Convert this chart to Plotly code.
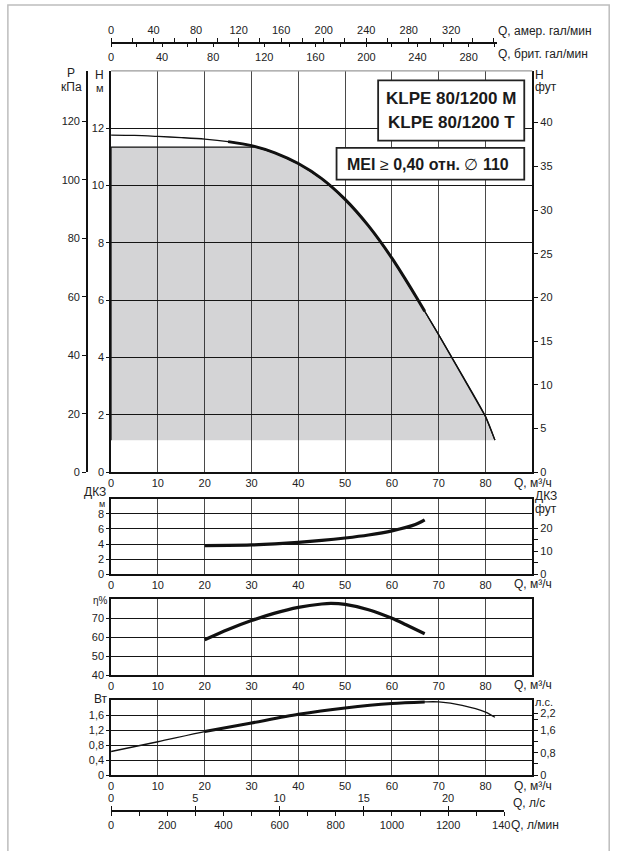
import numpy as np
import plotly.graph_objects as go

# ---- pump curves, flow Q in m³/h ----
q_head = [0, 5, 10, 15, 20, 25, 30, 35, 40, 45, 50, 55, 60, 65, 67, 70, 75, 80, 82]
h_head = [11.76, 11.745, 11.71, 11.67, 11.62, 11.53, 11.39, 11.14, 10.765, 10.24,
          9.515, 8.59, 7.465, 6.165, 5.615, 4.79, 3.39, 1.94, 1.12]

q_npsh = [20, 25, 30, 35, 40, 45, 50, 55, 60, 65, 67]
npsh_m = [3.80, 3.82, 3.88, 4.02, 4.22, 4.48, 4.80, 5.20, 5.75, 6.58, 7.20]

q_eff = [20, 25, 30, 35, 40, 45, 47, 50, 55, 60, 63, 67]
eff_pct = [58.6, 64.0, 68.7, 72.6, 75.6, 77.4, 77.7, 77.2, 74.4, 69.9, 66.5, 61.8]

q_pow = [0, 10, 20, 30, 40, 50, 60, 67, 70, 75, 80, 82]
p2_kw = [0.63, 0.89, 1.16, 1.39, 1.62, 1.79, 1.91, 1.95, 1.95, 1.86, 1.68, 1.54]

head_bold = (25, 67)      # bold part of the head curve
pow_bold = (20, 67)       # bold part of the power curve
area_top = 11.34          # upper edge of the shaded field, m
area_bottom = 1.12        # lower edge of the shaded field, m

# ---- unit conversions ----
M_TO_FT = 3.28084
M_TO_KPA = 9.80665
KW_TO_HP = 1 / 0.7457
M3H_TO_USGPM = 4.40287
M3H_TO_IMPGPM = 3.66615
M3H_TO_LPM = 1000 / 60

# ---- ticks ----
q_ticks = list(range(0, 81, 10))
h_ticks = list(range(0, 13, 2))
kpa_ticks = list(range(0, 121, 20))
ft_ticks = list(range(0, 41, 5))
npsh_ticks = [0, 2, 4, 6, 8]
npsh_ft_ticks = [0, 5, 10, 15, 20]
npsh_ft_text = ["0", "", "10", "", "20"]
eff_ticks = [40, 50, 60, 70]
pow_ticks = [0, 0.4, 0.8, 1.2, 1.6]
pow_text = ["0", "0,4", "0,8", "1,2", "1,6"]
hp_ticks = [0, 0.4, 0.8, 1.2, 1.6, 2.0, 2.2]
hp_text = ["0", "", "0,8", "", "1,6", "", "2,2"]
usgpm_ticks = list(range(0, 361, 20))
usgpm_labels = list(range(0, 321, 40))
impgpm_ticks = list(range(0, 301, 20))
impgpm_labels = list(range(0, 281, 40))
lps_ticks = [0, 5, 10, 15, 20]
lps_labels = [0, 5, 10, 15, 20]
lpm_ticks = list(range(0, 1401, 100))
lpm_labels = list(range(0, 1401, 200))

Q_MAX = 90
H_MAX = 14
NPSH_MAX = 10
EFF_RANGE = [40, 80]
P2_MAX = 2.0
Q_TOP_END = 82.5
LPM_END = 1400

# ---- page geometry ----
W, HGT = 629, 851
FONT = "Liberation Sans, Arial, sans-serif"
BOLD_FONT = "Liberation Sans, Arial, sans-serif"
INK = "#111111"
TXT = "#222222"


def fx(px):
    return px / W


def fy(px):
    return 1 - px / HGT


X0, X1 = 110.7, 542.3
PX_PER_Q = (X1 - X0) / Q_MAX
X_DOM = [fx(X0), fx(X1)]
X_DOM_TOP = [fx(X0), fx(X0 + Q_TOP_END * PX_PER_Q)]
X_DOM_BOT = [fx(X0), fx(X0 + LPM_END / M3H_TO_LPM * PX_PER_Q)]

MAIN_DOM = [fy(475.6), fy(71.3)]
NPSH_DOM = [fy(578.3), fy(502.3)]
EFF_DOM = [fy(680.0), fy(603.3)]
POW_DOM = [fy(780.7), fy(705.0)]

tickfont = dict(family=FONT, size=11, color=TXT)


def sub(q, v, lo, hi):
    pts = [(a, b) for a, b in zip(q, v) if lo <= a <= hi]
    return [p[0] for p in pts], [p[1] for p in pts]


fig = go.Figure()

# shaded working field under the head curve
q_cross = float(np.interp(area_top, h_head[::-1], q_head[::-1]))
poly_q = [0, 0, q_cross] + [q for q in q_head if q > q_cross]
poly_h = [area_bottom, area_top, area_top] + [h for q, h in zip(q_head, h_head) if q > q_cross]
fig.add_trace(go.Scatter(x=poly_q, y=poly_h, fill="toself", fillcolor="rgba(0,0,12,0.17)",
                         mode="lines", line=dict(color=INK, width=1.3),
                         xaxis="x", yaxis="y", hoverinfo="skip"))

# head curve: thin over full span, bold in the recommended range
fig.add_trace(go.Scatter(x=q_head, y=h_head, mode="lines",
                         line=dict(color=INK, width=1.3, shape="spline", smoothing=0.8),
                         xaxis="x", yaxis="y"))
qb, hb = sub(q_head, h_head, *head_bold)
fig.add_trace(go.Scatter(x=qb, y=hb, mode="lines",
                         line=dict(color=INK, width=3, shape="spline", smoothing=0.8),
                         xaxis="x", yaxis="y"))

# NPSH
fig.add_trace(go.Scatter(x=q_npsh, y=npsh_m, mode="lines",
                         line=dict(color=INK, width=3.2, shape="spline", smoothing=0.8),
                         xaxis="x2", yaxis="y4"))

# efficiency
fig.add_trace(go.Scatter(x=q_eff, y=eff_pct, mode="lines",
                         line=dict(color=INK, width=3.2, shape="spline", smoothing=0.8),
                         xaxis="x3", yaxis="y6"))

# power input
fig.add_trace(go.Scatter(x=q_pow, y=p2_kw, mode="lines",
                         line=dict(color=INK, width=1.3, shape="spline", smoothing=0.8),
                         xaxis="x4", yaxis="y7"))
qp, pp = sub(q_pow, p2_kw, *pow_bold)
fig.add_trace(go.Scatter(x=qp, y=pp, mode="lines",
                         line=dict(color=INK, width=3, shape="spline", smoothing=0.8),
                         xaxis="x4", yaxis="y7"))

# empty traces that register the secondary scales
for xa, ya in [("x", "y2"), ("x", "y3"), ("x2", "y5"), ("x4", "y8"),
               ("x5", "y"), ("x6", "y"), ("x7", "y7"), ("x8", "y7")]:
    fig.add_trace(go.Scatter(x=[None], y=[None], mode="lines", xaxis=xa, yaxis=ya,
                             hoverinfo="skip"))


def q_axis(anchor, mirror):
    return dict(domain=X_DOM, range=[0, Q_MAX], anchor=anchor, tickmode="array",
                tickvals=q_ticks, ticks="", showline=True, linecolor=INK, linewidth=1.5,
                mirror=mirror, showgrid=True, gridcolor="#4a4a4a", gridwidth=1.3,
                zeroline=False, tickfont=tickfont, fixedrange=True)


def val_axis(dom, rng, vals, text=None, anchor=None, mirror=False, grid=True, ticklen=3):
    d = dict(domain=dom, range=rng, tickmode="array", tickvals=vals, ticks="outside",
             ticklen=ticklen, tickwidth=1, tickcolor=INK, showline=True, linecolor=INK,
             linewidth=1.5, mirror=mirror, showgrid=grid, gridcolor="#151515", gridwidth=1.3,
             zeroline=False, tickfont=tickfont, fixedrange=True)
    if text is not None:
        d["ticktext"] = text
    if anchor:
        d["anchor"] = anchor
    return d


def over_axis(base, rng, vals, text=None, side="right", anchor=None, position=None):
    d = dict(overlaying=base, side=side, range=rng, tickmode="array", tickvals=vals,
             ticks="outside", ticklen=4, tickwidth=1, tickcolor=INK, showline=True,
             linecolor=INK, linewidth=1.5, showgrid=False, zeroline=False,
             tickfont=tickfont, fixedrange=True)
    if text is not None:
        d["ticktext"] = text
    if anchor:
        d["anchor"] = anchor
    if position is not None:
        d["position"] = position
    return d


def free_x(dom, pos, side, rng, vals, labelled):
    return dict(domain=dom, anchor="free", position=pos, side=side, range=rng,
                tickmode="array", tickvals=vals,
                ticktext=[str(v) if v in labelled else "" for v in vals],
                ticks="outside", ticklen=4, tickwidth=1, tickcolor=INK,
                showline=True, linecolor=INK, linewidth=1.5, showgrid=False,
                zeroline=False, tickfont=tickfont, fixedrange=True)


TOP_LINE = fy(43)
BOT_LINE = fy(816.7)

fig.update_layout(
    width=W, height=HGT, margin=dict(l=0, r=0, t=0, b=0),
    paper_bgcolor="white", plot_bgcolor="rgba(0,0,0,0)", showlegend=False,
    font=dict(family=FONT, size=11, color=TXT),
    # main chart
    xaxis=q_axis("y", False),
    yaxis=val_axis(MAIN_DOM, [0, H_MAX], h_ticks, anchor="x"),
    yaxis2=over_axis("y", [0, H_MAX * M_TO_KPA], kpa_ticks, side="left",
                     anchor="free", position=fx(86)),
    yaxis3=over_axis("y", [0, H_MAX * M_TO_FT], ft_ticks, anchor="x"),
    # NPSH
    xaxis2=q_axis("y4", True),
    yaxis4=val_axis(NPSH_DOM, [0, NPSH_MAX], npsh_ticks, anchor="x2"),
    yaxis5=over_axis("y4", [0, NPSH_MAX * M_TO_FT], npsh_ft_ticks, npsh_ft_text, anchor="x2"),
    # efficiency
    xaxis3=q_axis("y6", True),
    yaxis6=val_axis(EFF_DOM, EFF_RANGE, eff_ticks, anchor="x3", mirror=True),
    # power
    xaxis4=q_axis("y7", True),
    yaxis7=val_axis(POW_DOM, [0, P2_MAX], pow_ticks, pow_text, anchor="x4"),
    yaxis8=over_axis("y7", [0, P2_MAX * KW_TO_HP], hp_ticks, hp_text, anchor="x4"),
    # flow in gallons per minute
    xaxis5=free_x(X_DOM_TOP, TOP_LINE, "top", [0, Q_TOP_END * M3H_TO_USGPM],
                  usgpm_ticks, usgpm_labels),
    xaxis6=free_x(X_DOM_TOP, TOP_LINE, "bottom", [0, Q_TOP_END * M3H_TO_IMPGPM],
                  impgpm_ticks, impgpm_labels),
    # flow in litres
    xaxis7=free_x(X_DOM_BOT, BOT_LINE, "top", [0, LPM_END / 60], lps_ticks, lps_labels),
    xaxis8=free_x(X_DOM_BOT, BOT_LINE, "bottom", [0, LPM_END], lpm_ticks, lpm_labels),
)

shapes = [
    # page frame
    dict(type="rect", xref="paper", yref="paper", x0=fx(5), x1=fx(621), y0=-0.01, y1=fy(5),
         line=dict(color="#bdbdbd", width=1.5), fillcolor="rgba(0,0,0,0)", layer="below"),
    # top edge of the head chart
    dict(type="line", xref="x domain", yref="y domain", x0=0, x1=1, y0=1, y1=1,
         line=dict(color="#9a9a9a", width=1.3), layer="above"),
    # model box and MEI box
    dict(type="rect", xref="paper", yref="paper", x0=fx(384.3), x1=fx(534), y0=fy(141.7), y1=fy(81),
         line=dict(color="#222", width=1.8), fillcolor="white", layer="above"),
    dict(type="rect", xref="paper", yref="paper", x0=fx(341.7), x1=fx(534), y0=fy(181), y1=fy(149),
         line=dict(color="#222", width=1.8), fillcolor="white", layer="above"),
]

ann = []


def label(text, xp, yp, anchor="center", size=12, bg=None, family=FONT):
    a = dict(text=text, xref="paper", yref="paper", x=fx(xp), y=fy(yp), xanchor=anchor,
             yanchor="middle", showarrow=False, font=dict(family=family, size=size, color=TXT))
    if bg:
        a["bgcolor"] = bg
        a["borderpad"] = 0
    ann.append(a)


label("P", 70, 74)
label("кПа", 70, 88)
label("Н", 99, 76)
label("м", 99, 89, size=11)
label("Н", 543, 76, "left")
label("фут", 543, 88, "left")
label("ДКЗ", 94, 495.5)
label("м", 101.5, 508, size=9)
label("ДКЗ", 543, 500, "left")
label("фут", 543, 512.5, "left")
label("η%", 100, 605, size=10)
label("Вт", 100, 704)
label("л.с.", 543, 707, "left", size=11)
for yq in (486, 588.3, 690, 791.7):
    label("Q, м³/ч", 521.7, yq, "left")
label("Q, амер. гал/мин", 505.5, 31, "left")
label("Q, брит. гал/мин", 505.5, 54.5, "left")
label("Q, л/с", 520, 808.3, "left")
label("Q, л/мин", 519.3, 830.7, "left", bg="white")

box_font = dict(family=BOLD_FONT, size=17, color="#1a1a1a")
ann.append(dict(text="<b>KLPE 80/1200 M</b>", xref="paper", yref="paper", x=fx(459.2), y=fy(99.5),
                xanchor="center", yanchor="middle", showarrow=False, font=box_font))
ann.append(dict(text="<b>KLPE 80/1200 T</b>", xref="paper", yref="paper", x=fx(459.2), y=fy(123.5),
                xanchor="center", yanchor="middle", showarrow=False, font=box_font))
ann.append(dict(text="<b>MEI</b> ≥ <b>0,40 отн.</b> ∅ <b>110</b>", xref="paper", yref="paper",
                x=fx(350.7), y=fy(166), xanchor="left", yanchor="middle", showarrow=False,
                font=dict(family=BOLD_FONT, size=16, color="#1a1a1a")))

fig.update_layout(shapes=shapes, annotations=ann)

fig.write_html("out.html")
